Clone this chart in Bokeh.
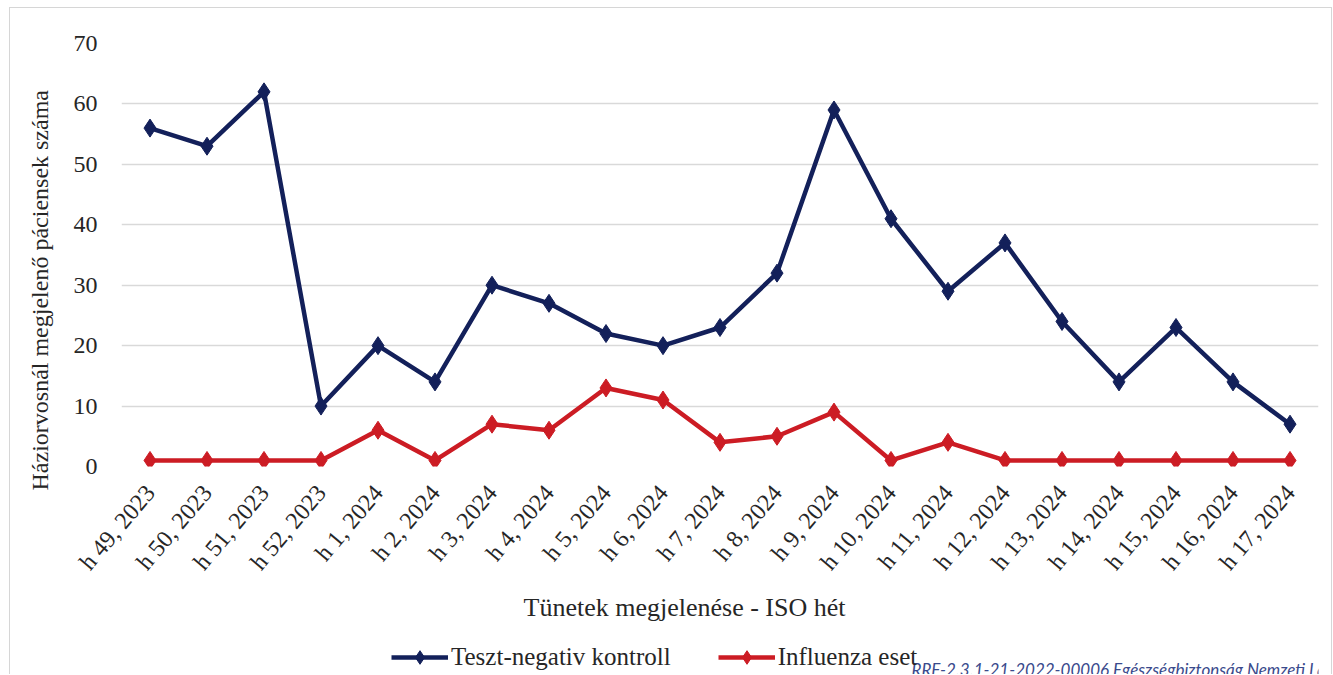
import math
from bokeh.plotting import figure
from bokeh.layouts import column
from bokeh.models import FactorRange, Range1d, Legend, LegendItem, Title, Label, SingleIntervalTicker
from bokeh.embed import file_html
from bokeh.resources import INLINE

weeks = ["h 49, 2023", "h 50, 2023", "h 51, 2023", "h 52, 2023",
         "h 1, 2024", "h 2, 2024", "h 3, 2024", "h 4, 2024", "h 5, 2024",
         "h 6, 2024", "h 7, 2024", "h 8, 2024", "h 9, 2024", "h 10, 2024",
         "h 11, 2024", "h 12, 2024", "h 13, 2024", "h 14, 2024", "h 15, 2024",
         "h 16, 2024", "h 17, 2024"]
test_negative = [56, 53, 62, 10, 20, 14, 30, 27, 22, 20, 23, 32, 59, 41, 29, 37, 24, 14, 23, 14, 7]
influenza = [1, 1, 1, 1, 6, 1, 7, 6, 13, 11, 4, 5, 9, 1, 4, 1, 1, 1, 1, 1, 1]
series_names = ["Teszt-negativ kontroll", "Influenza eset"]

NAVY = "#13205a"
RED = "#cc1c24"
SERIF = "Liberation Serif"
TXT = "#262626"

p = figure(width=1321, height=620, x_range=FactorRange(*weeks), y_range=Range1d(0, 70),
           output_backend="svg", toolbar_location=None,
           min_border_left=108, min_border_right=13, min_border_top=35, min_border_bottom=162)
p.outline_line_color = None
p.background_fill_color = "white"
p.border_fill_color = "white"

p.xgrid.grid_line_color = None
p.ygrid.grid_line_color = "#d9d9d9"
p.ygrid.grid_line_width = 1.5
p.yaxis.ticker = SingleIntervalTicker(interval=10)

for ax in (p.xaxis, p.yaxis):
    ax.axis_line_color = None
    ax.major_tick_line_color = None
    ax.minor_tick_line_color = None
    ax.major_label_text_font = SERIF
    ax.major_label_text_color = TXT
    ax.major_label_text_font_size = "24px"
p.yaxis.major_label_standoff = 18
p.xaxis.major_label_orientation = 0.87
p.xaxis.major_label_standoff = 16

p.line(weeks, test_negative, line_color=NAVY, line_width=4.5)
p.scatter(weeks, test_negative, marker="diamond", size=18, fill_color=NAVY, line_color=NAVY)
p.line(weeks, influenza, line_color=RED, line_width=4.5)
p.scatter(weeks, influenza, marker="diamond", size=18, fill_color=RED, line_color=RED)

ytitle = Title(text="Háziorvosnál megjelenő páciensek száma", align="left", offset=-24,
               vertical_align="top", standoff=32,
               text_font=SERIF, text_font_size="24px", text_font_style="normal", text_color=TXT)
p.add_layout(ytitle, "left")

xtitle = Title(text="Tünetek megjelenése - ISO hét", align="left", offset=402,
               vertical_align="middle", standoff=10,
               text_font=SERIF, text_font_size="26px", text_font_style="normal", text_color=TXT)
p.add_layout(xtitle, "below")

# legend strip: same series drawn on a strip whose y-range lies outside the data,
# so only their legend glyphs show
p2 = figure(width=1321, height=46, output_backend="svg", toolbar_location=None,
            x_range=FactorRange(*weeks), y_range=Range1d(-20, -10),
            x_axis_type=None, y_axis_type=None,
            min_border_left=0, min_border_right=0, min_border_top=0, min_border_bottom=0)
p2.outline_line_color = None
p2.grid.grid_line_color = None
k1 = p2.line(weeks, test_negative, line_color=NAVY, line_width=4.5)
k1s = p2.scatter(weeks, test_negative, marker="diamond", size=15, fill_color=NAVY, line_color=NAVY)
k2 = p2.line(weeks, influenza, line_color=RED, line_width=4.5)
k2s = p2.scatter(weeks, influenza, marker="diamond", size=15, fill_color=RED, line_color=RED)
legend = Legend(items=[LegendItem(label=series_names[0], renderers=[k1, k1s]),
                       LegendItem(label=series_names[1], renderers=[k2, k2s])],
                orientation="horizontal", location=(270, 0),
                label_text_font=SERIF, label_text_font_size="25px", label_text_color=TXT,
                glyph_width=57, glyph_height=34, label_standoff=3, spacing=47,
                padding=0, margin=0, border_line_color=None, background_fill_alpha=0)
p2.add_layout(legend, "center")
p2.add_layout(Label(x=790, y=5, x_units="screen", y_units="screen",
                    text="RRF-2.3.1-21-2022-00006 Egészségbiztonság Nemzeti Laboratórium",
                    text_font="Lato", text_font_style="italic", text_font_size="17px",
                    text_color="#3a4a8c", text_baseline="alphabetic"))

lay = column(p, p2, spacing=0,
             styles={"margin-left": "9px", "margin-top": "7px",
                     "border-left": "1px solid #d6d6d6", "border-top": "1px solid #d6d6d6",
                     "border-right": "1px solid #d6d6d6"})

open("out.html", "w").write(file_html(lay, INLINE))
